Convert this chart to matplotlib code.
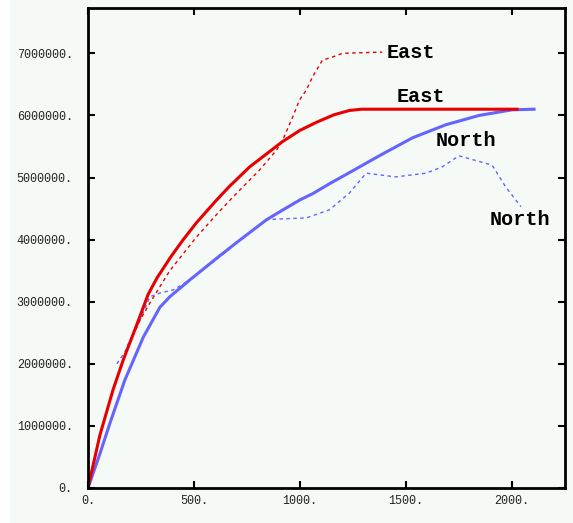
import matplotlib.pyplot as plt
from matplotlib.patches import Rectangle

# data
east_x = [0, 56, 118, 166, 229, 284, 325, 390, 447, 511, 607, 668, 762, 842, 918, 1000, 1078, 1160, 1233, 1290, 1500, 1800, 2024]
east_y = [0, 0.85e6, 1.58e6, 2.06e6, 2.62e6, 3.12e6, 3.38e6, 3.72e6, 3.99e6, 4.27e6, 4.64e6, 4.86e6, 5.17e6, 5.38e6, 5.58e6, 5.76e6, 5.89e6, 6.01e6, 6.08e6, 6.1e6, 6.1e6, 6.1e6, 6.1e6]

north_x = [0, 56, 104, 174, 261, 339, 386, 480, 607, 700, 842, 920, 1000, 1060, 1139, 1218, 1374, 1531, 1688, 1845, 2000, 2104]
north_y = [0, 0.55e6, 1.05e6, 1.74e6, 2.43e6, 2.91e6, 3.08e6, 3.35e6, 3.70e6, 3.95e6, 4.32e6, 4.48e6, 4.64e6, 4.74e6, 4.90e6, 5.05e6, 5.35e6, 5.64e6, 5.85e6, 6.0e6, 6.09e6, 6.1e6]

east_obs_x = [200, 245, 292, 386, 511, 600, 682, 809, 889, 918, 965, 998, 1030, 1059, 1106, 1153, 1200, 1388]
east_obs_y = [2.35e6, 2.7e6, 2.98e6, 3.50e6, 4.04e6, 4.38e6, 4.68e6, 5.12e6, 5.44e6, 5.60e6, 5.97e6, 6.25e6, 6.41e6, 6.62e6, 6.89e6, 6.94e6, 7.0e6, 7.02e6]

north_obs_x = [136, 174, 198, 245, 292, 339, 402, 480, 560, 621, 700, 842, 887, 1030, 1139, 1233, 1312, 1452, 1594, 1670, 1750, 1906, 1970, 2042]
north_obs_y = [2.0e6, 2.19e6, 2.38e6, 2.7e6, 3.08e6, 3.14e6, 3.19e6, 3.35e6, 3.56e6, 3.72e6, 3.95e6, 4.32e6, 4.33e6, 4.35e6, 4.48e6, 4.75e6, 5.07e6, 5.01e6, 5.07e6, 5.17e6, 5.35e6, 5.2e6, 4.85e6, 4.53e6]

xticks = [0, 500, 1000, 1500, 2000]
yticks = [0, 1e6, 2e6, 3e6, 4e6, 5e6, 6e6, 7e6]

red = "#e80000"
blue = "#6464ff"
bg = "#f5faf7"

fig = plt.figure(figsize=(5.73, 5.23), dpi=100, facecolor=bg)
fig.patches.append(Rectangle((0, 0), 10 / 573, 1, transform=fig.transFigure,
                             facecolor="white", edgecolor="none", zorder=-1))
ax = fig.add_axes([88 / 573, 35 / 523, 477 / 573, 480 / 523])
ax.set_facecolor(bg)

ax.plot(east_obs_x, east_obs_y, color=red, lw=1.0, ls=(0, (2.5, 2.5)))
ax.plot(north_obs_x, north_obs_y, color=blue, lw=1.0, ls=(0, (2.5, 2.5)))
ax.plot(north_x, north_y, color=blue, lw=2.2)
ax.plot(east_x, east_y, color=red, lw=2.2)

lab = dict(family="Liberation Mono", fontweight="bold", fontsize=14.5, va="center", ha="left")
ax.text(1407, 7.02e6, "East", **lab)
ax.text(1454, 6.30e6, "East", **lab)
ax.text(1642, 5.60e6, "North", **lab)
ax.text(1896, 4.32e6, "North", **lab)

ax.set_xlim(0, 2250)
ax.set_ylim(0, 7.73e6)
ax.set_xticks(xticks)
ax.set_yticks(yticks)
ax.set_xticklabels([f"{int(v)}." for v in xticks], family="Liberation Mono", fontsize=8.5, color="#222222")
ax.set_yticklabels([f"{int(v)}." for v in yticks], family="Liberation Mono", fontsize=8.5, color="#222222")
ax.tick_params(axis="both", direction="in", length=5, width=1.5, top=True, right=True)
ax.tick_params(axis="y", pad=11)
ax.tick_params(axis="x", pad=5)
for s in ax.spines.values():
    s.set_linewidth(2)

fig.savefig("out.png", dpi=100, facecolor=fig.get_facecolor())
